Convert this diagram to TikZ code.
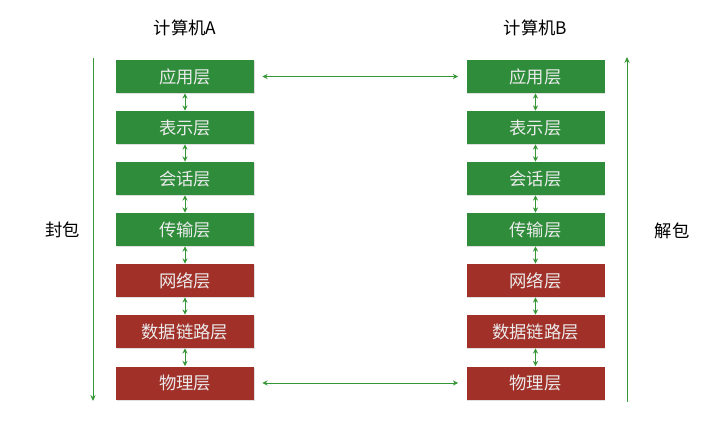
\documentclass[tikz,border=0pt]{standalone}
\usepackage{fontspec}
\newfontfamily\cjk{Noto Sans CJK SC}
\usetikzlibrary{arrows.meta,shadows}
\definecolor{boxgreen}{RGB}{46,140,58}
\definecolor{boxred}{RGB}{160,48,40}
\definecolor{linegreen}{RGB}{52,150,52}
\tikzset{
  layer/.style={minimum width=138*0.75pt, minimum height=33*0.75pt, inner sep=0pt,
    text=white!92!black, font=\cjk\fontsize{13}{15}\selectfont, drop shadow={shadow xshift=0.6pt, shadow yshift=-0.8pt, opacity=0.25}},
  up/.style={layer, fill=boxgreen},
  low/.style={layer, fill=boxred},
  link/.style={draw=linegreen, line width=0.75pt, {Stealth[length=4pt,width=3.8pt]}-{Stealth[length=4pt,width=3.8pt]}},
  flow/.style={draw=linegreen, line width=0.75pt, -{Stealth[length=4.5pt,width=4pt]}},
  lbl/.style={font=\cjk\fontsize{13}{15}\selectfont, text=black}
}
\begin{document}
\begin{tikzpicture}[x=0.75pt,y=-0.75pt]
\useasboundingbox (0,0) rectangle (726,432);
\foreach \side/\cx in {A/185,B/535.5}{
  \node[up]  (\side1) at (\cx,76.5)  {应用层};
  \node[up]  (\side2) at (\cx,127.5) {表示层};
  \node[up]  (\side3) at (\cx,178.5) {会话层};
  \node[up]  (\side4) at (\cx,229.5) {传输层};
  \node[low] (\side5) at (\cx,280.5) {网络层};
  \node[low] (\side6) at (\cx,331.5) {数据链路层};
  \node[low] (\side7) at (\cx,383)   {物理层};
  \foreach \i/\j in {1/2,2/3,3/4,4/5,5/6,6/7}{
    \draw[link] (\side\i.south) -- (\side\j.north);
  }
}
\node[lbl] (tA) at (185,28) {计算机A};
\node[lbl] (tB) at (535.5,28) {计算机B};
\node[lbl] (enc) at (63,230) {封包};
\node[lbl] (dec) at (672,231) {解包};
\draw[link] ([xshift=6pt]A1.east) -- ([xshift=-6pt]B1.west);
\draw[link] ([xshift=6pt]A7.east) -- ([xshift=-6pt]B7.west);
\coordinate (ltop) at (93,58);
\coordinate (lbot) at (93,401);
\coordinate (rtop) at (627,57);
\coordinate (rbot) at (627,402);
\draw[flow] (ltop) -- (lbot);
\draw[flow] (rbot) -- (rtop);
\end{tikzpicture}
\end{document}
